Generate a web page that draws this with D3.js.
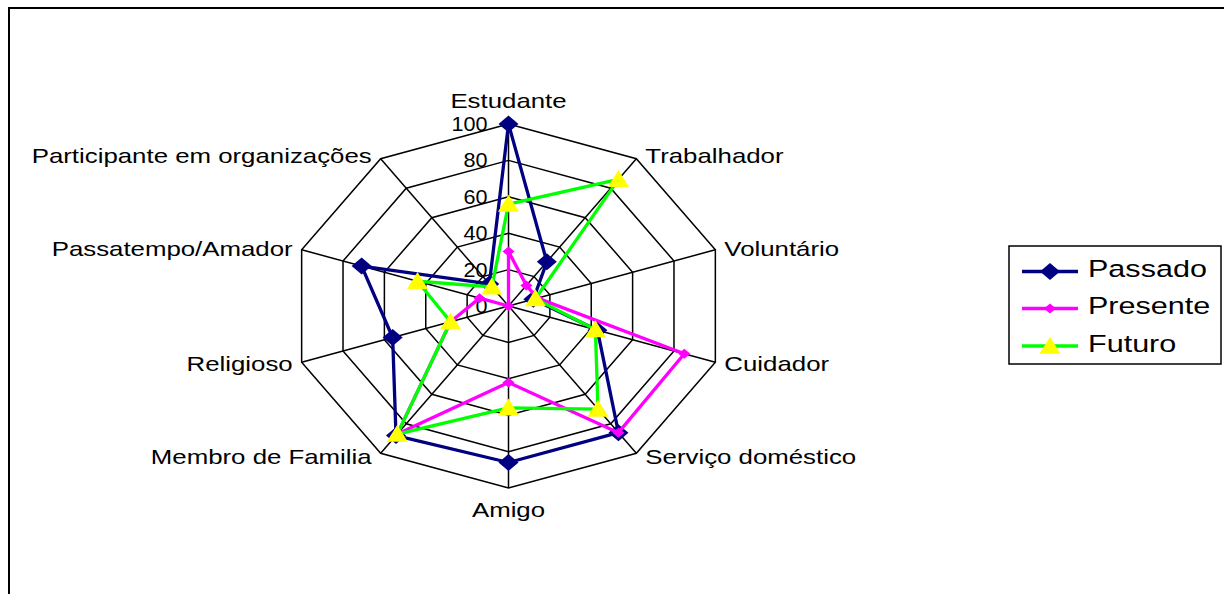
<!DOCTYPE html>
<html>
<head>
<meta charset="utf-8">
<script src="https://cdn.jsdelivr.net/npm/d3@7"></script>
<style>
  body { margin: 0; background: #fff; }
  text { font-family: Arial, "Liberation Sans", sans-serif; fill: #000; }
</style>
</head>
<body>
<div id="chart"></div>
<script>
// Chart data
const categories = ["Estudante", "Trabalhador", "Voluntário", "Cuidador", "Serviço doméstico",
                    "Amigo", "Membro de Familia", "Religioso", "Passatempo/Amador", "Participante em organizações"];
const passado  = [100, 30, 12, 43, 86, 86, 88, 56, 71, 15];
const presente = [30, 14, 14, 85, 86, 42, 87, 28, 14, 0];
const futuro   = [56, 86, 13, 42, 70, 56, 87, 28, 44, 13];
const ticks = [0, 20, 40, 60, 80, 100];
const seriesNames = ["Passado", "Presente", "Futuro"];

const width = 1224, height = 594;
const cx = 508.5, cy = 306;
const rx = 217.5, ry = 182;   // the picture is stretched sideways

const svg = d3.select("#chart").append("svg")
    .attr("width", width)
    .attr("height", height);

// outer frame (runs off the right and bottom)
svg.append("rect")
    .attr("x", 9).attr("y", 8)
    .attr("width", 1400).attr("height", 800)
    .attr("fill", "none").attr("stroke", "#000").attr("stroke-width", 2);

const angle = d3.scaleLinear().domain([0, categories.length]).range([0, 2 * Math.PI]);
const rX = d3.scaleLinear().domain([0, 100]).range([0, rx]);
const rY = d3.scaleLinear().domain([0, 100]).range([0, ry]);

const px = (i, v) => cx + rX(v) * Math.sin(angle(i));
const py = (i, v) => cy - rY(v) * Math.cos(angle(i));

// grid rings
const ring = d3.line().x(d => d[0]).y(d => d[1]);
ticks.slice(1).forEach(t => {
    const pts = categories.map((c, i) => [px(i, t), py(i, t)]);
    pts.push(pts[0]);
    svg.append("path")
        .attr("d", ring(pts))
        .attr("fill", "none").attr("stroke", "#000").attr("stroke-width", 1.5);
});

// spokes
svg.selectAll(".spoke")
    .data(categories)
    .enter().append("line")
    .attr("class", "spoke")
    .attr("x1", cx).attr("y1", cy)
    .attr("x2", (d, i) => px(i, 100))
    .attr("y2", (d, i) => py(i, 100))
    .attr("stroke", "#000").attr("stroke-width", 1.5);

// tick labels
svg.selectAll(".tick")
    .data(ticks)
    .enter().append("g")
    .attr("class", "tick")
    .attr("transform", d => `translate(${cx - 21},${cy - rY(d) + 7}) scale(1.08,1)`)
    .append("text")
    .attr("text-anchor", "end")
    .attr("font-size", 20)
    .text(d => d);

// category labels
svg.selectAll(".cat")
    .data(categories)
    .enter().append("g")
    .attr("class", "cat")
    .attr("transform", (d, i) => {
        const vx = px(i, 100), vy = py(i, 100);
        let x = vx, y;
        if (i === 0) { y = vy - 16; }
        else if (i === 5) { y = vy + 29; }
        else {
            x = vx + (vx > cx ? 9 : -9);
            y = vy + (vy - cy) * 0.02 + 7.5;
        }
        return `translate(${x},${y}) scale(1.23,1)`;
    })
    .append("text")
    .attr("font-size", 21)
    .attr("text-anchor", (d, i) => (i === 0 || i === 5) ? "middle" : (i < 5 ? "start" : "end"))
    .text(d => d);

// markers
function diamond(g, x, y, hw, hh, fill, stroke) {
    g.append("path")
        .attr("d", `M${x},${y - hh}L${x + hw},${y}L${x},${y + hh}L${x - hw},${y}Z`)
        .attr("fill", fill).attr("stroke", stroke || "none");
}
function triangle(g, x, y, hw, h) {
    g.append("path")
        .attr("d", `M${x},${y - h * 0.55}L${x + hw},${y + h * 0.45}L${x - hw},${y + h * 0.45}Z`)
        .attr("fill", "#ffff00");
}

const styles = [
    { data: passado,  color: "#000080", marker: (g, x, y) => diamond(g, x, y, 10, 8.5, "#000080") },
    { data: presente, color: "#ff00ff", marker: (g, x, y) => diamond(g, x, y, 6, 5, "#ff00ff") },
    { data: futuro,   color: "#00ff00", marker: (g, x, y) => triangle(g, x, y, 10.5, 17) }
];

const line = d3.line().x(d => d.x).y(d => d.y);

styles.forEach(s => {
    const pts = s.data.map((v, i) => ({ x: px(i, v), y: py(i, v) }));
    pts.push(pts[0]);
    const g = svg.append("g");
    g.append("path")
        .attr("d", line(pts))
        .attr("fill", "none")
        .attr("stroke", s.color)
        .attr("stroke-width", 3.3)
        .attr("stroke-linejoin", "round");
    pts.slice(0, -1).forEach(p => s.marker(g, p.x, p.y));
});

// legend
const legend = svg.append("g");
legend.append("rect")
    .attr("x", 1009).attr("y", 246)
    .attr("width", 212).attr("height", 118)
    .attr("fill", "#fff").attr("stroke", "#000").attr("stroke-width", 1.5);

const rowY = [271.5, 308.5, 346];
styles.forEach((s, i) => {
    legend.append("line")
        .attr("x1", 1022).attr("x2", 1078)
        .attr("y1", rowY[i]).attr("y2", rowY[i])
        .attr("stroke", s.color).attr("stroke-width", 3.3);
    s.marker(legend, 1050, rowY[i]);
    legend.append("g")
        .attr("transform", `translate(1088,${rowY[i] + 5.5}) scale(1.3,1)`)
        .append("text")
        .attr("font-size", 23.5)
        .text(seriesNames[i]);
});
</script>
</body>
</html>
